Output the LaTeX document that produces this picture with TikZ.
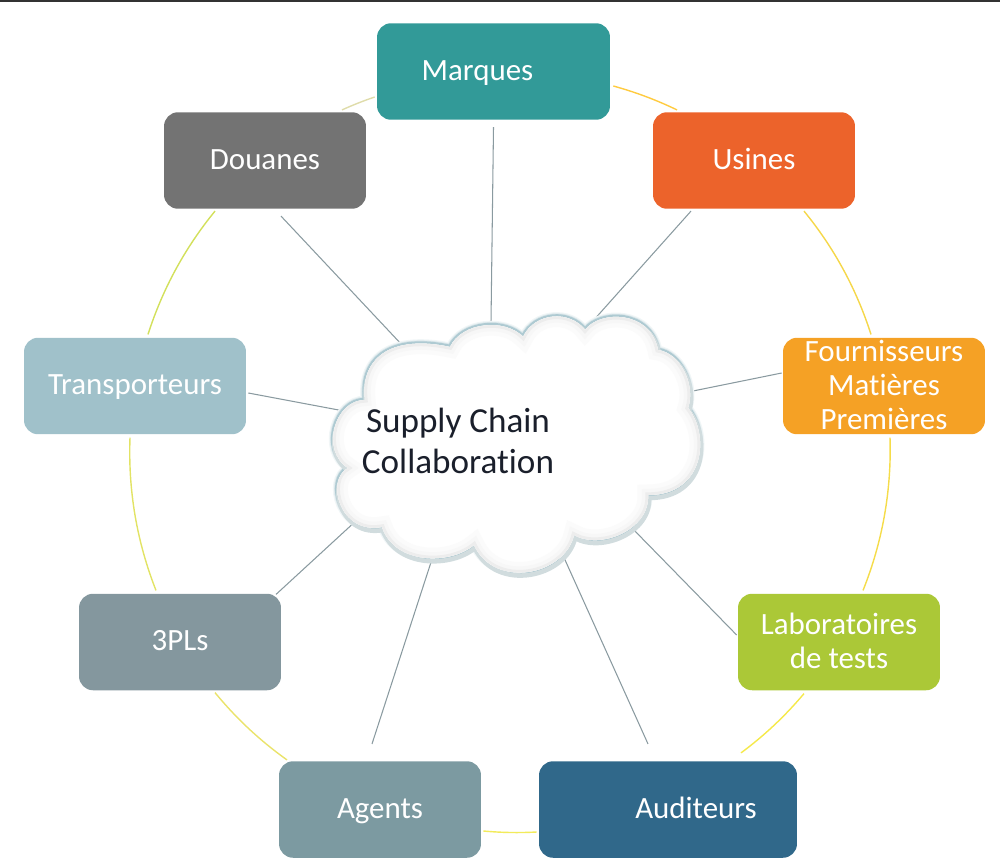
\documentclass[tikz,border=0pt]{standalone}
\usepackage{fontspec}
\setmainfont[Ligatures=NoCommon,Contextuals=NoAlternate]{Carlito}
\definecolor{cmarques}{HTML}{329A98}
\definecolor{cdouanes}{HTML}{737373}
\definecolor{cusines}{HTML}{EC632B}
\definecolor{cfourn}{HTML}{F5A125}
\definecolor{ctransp}{HTML}{A0C1CA}
\definecolor{clabo}{HTML}{ABC837}
\definecolor{cpl}{HTML}{84979E}
\definecolor{cagents}{HTML}{7C9AA1}
\definecolor{cauditeurs}{HTML}{30688A}
\definecolor{ctexte}{HTML}{1A1F2B}
\definecolor{crayon}{HTML}{8A9AA0}
\tikzset{
  boite/.style={draw=none, rounded corners=0.28cm, minimum width=4.04cm, minimum height=1.93cm, inner sep=0pt, align=center, text=white, font=\fontsize{17.6}{19.3}\selectfont},
  rayon/.style={draw=crayon, line width=0.6pt},
  anneau/.style={line width=0.8pt, draw opacity=0.75, bend left=#1, looseness=0.87}
}
\newcommand{\etai}{\rule[-4pt]{0pt}{17.7pt}}
\newcommand{\nuage}{(365,400) .. controls (360,355) and (395,335) .. (450,347)
  .. controls (462,322) and (505,318) .. (523,337)
  .. controls (535,312) and (570,310) .. (585,330)
  .. controls (600,310) and (650,310) .. (658,350)
  .. controls (680,353) and (696,385) .. (688,408)
  .. controls (710,435) and (705,495) .. (648,495)
  .. controls (650,530) and (600,550) .. (574,535)
  .. controls (565,575) and (495,590) .. (474,545)
  .. controls (450,565) and (395,565) .. (382,527)
  .. controls (340,535) and (325,480) .. (348,468)
  .. controls (320,450) and (335,400) .. (365,400) -- cycle}
\begin{document}
\begin{tikzpicture}[x=0.02cm, y=-0.02cm]
\useasboundingbox (0,0) rectangle (1000,859);
\fill[black!80] (0,0) rectangle (1000,2);
%
\node[boite, fill=cmarques, minimum width=4.66cm](M)at(493.5,71.5){\etai Marques\hspace*{0.64cm}};
\node[boite, fill=cdouanes](D)at(265,160.5){\etai Douanes};
\node[boite, fill=cusines](U)at(754,160.5){\etai Usines};
\node[boite, fill=cfourn](F)at(884,386){Fournisseurs\\Matières\\Premières\rule[-1.2pt]{0pt}{0pt}};
\node[boite, fill=ctransp, minimum width=4.44cm](T)at(135,386){\etai Transporteurs};
\node[boite, fill=clabo](L)at(839,642){Laboratoires\\de tests\rule[-1.2pt]{0pt}{0pt}};
\node[boite, fill=cpl](P)at(180,642){\etai 3PLs};
\node[boite, fill=cagents](Ag)at(380,809.5){\etai Agents};
\node[boite, fill=cauditeurs, minimum width=5.16cm](Au)at(668,809.5){\etai\hspace*{1.12cm}Auditeurs};
%
\coordinate(CM)at(491,322);
\coordinate(CD)at(403,346);
\coordinate(CU)at(584,331);
\coordinate(CF)at(688,392);
\coordinate(CL)at(631,527);
\coordinate(CAu)at(561,551);
\coordinate(CAg)at(434,553);
\coordinate(CP)at(358,519);
\coordinate(CT)at(344,411);
%
\draw[rayon]([shift={(0,7)}]M.south)--(CM);
\draw[rayon]([shift={(16,7)}]D.south)--(CD);
\draw[rayon]([shift={(-63,2)}]U.south)--(CU);
\draw[rayon]([shift={(-1,-13)}]F.west)--(CF);
\draw[rayon]([shift={(-1,-7)}]L.west)--(CL);
\draw[rayon]([shift={(-20,-17)}]Au.north)--(CAu);
\draw[rayon]([shift={(-8,-17)}]Ag.north)--(CAg);
\draw[rayon]([shift={(96,1)}]P.north)--(CP);
\draw[rayon]([shift={(2,7)}]T.east)--(CT);
%
\draw[anneau=10.7, color=black!5!lime!40!yellow!70!gray]([shift={(13,-3)}]T.north)to([shift={(-50,2)}]D.south);
\draw[anneau=2.7, color=black!5!yellow!50!gray!70]([shift={(77,-2)}]D.north)to([shift={(-2,25.5)}]M.west);
\draw[anneau=5.1, color=orange!55!yellow]([shift={(3,14.5)}]M.east)to([shift={(-77,-2)}]U.north);
\draw[anneau=10.7, color=orange!35!yellow!90!gray]([shift={(50,2)}]U.south)to([shift={(-13,-3)}]F.north);
\draw[anneau=11.8, color=orange!30!yellow!90!gray]([shift={(6,3)}]F.south)to([shift={(24,-3)}]L.north);
\draw[anneau=6.6, color=orange!15!yellow!90!gray]([shift={(-35,3)}]L.south)to([shift={(73,-8)}]Au.north);
\draw[anneau=4.1, color=yellow!85!gray]([shift={(-2,22.5)}]Au.west)to([shift={(2,21.5)}]Ag.east);
\draw[anneau=7.5, color=yellow!75!gray]([shift={(-93,-1)}]Ag.north)to([shift={(35,2)}]P.south);
\draw[anneau=11.8, color=yellow!65!lime!80!gray]([shift={(-24,-3)}]P.north)to([shift={(-5,3)}]T.south);
%
\draw[line width=5pt, color=ctransp!15]\nuage;
\draw[line width=3.6pt, color=ctransp!40]\nuage;
\draw[line width=2.6pt, color=ctransp!85]\nuage;
\draw[line width=2.6pt, color=cagents!35, shift={(1,3)}]\nuage;
\fill[white]\nuage;
\begin{scope}
\clip\nuage;
\draw[line width=12pt, color=black!1.5]\nuage;
\draw[line width=7pt, color=black!3]\nuage;
\draw[line width=3pt, color=black!7]\nuage;
\end{scope}
%
\node[inner sep=0pt, align=center, text=ctexte, font=\fontsize{20}{23.3}\selectfont](C)at(458,440.5){Supply Chain\\Collaboration};
\end{tikzpicture}
\end{document}
